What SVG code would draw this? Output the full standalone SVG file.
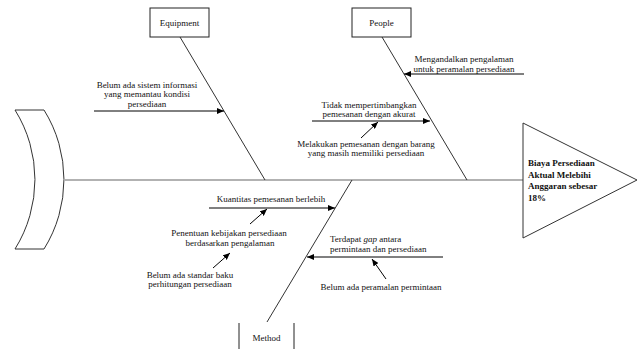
<svg xmlns="http://www.w3.org/2000/svg" width="638" height="349" viewBox="0 0 638 349">
<defs>
<style>
.t{font-family:"Liberation Serif","Times New Roman",serif;font-size:9px;fill:#111}
.c{text-anchor:middle}
.b{font-weight:bold}
.bone{stroke:#333;stroke-width:1;fill:none}
.sp{stroke:#666;stroke-width:1.2;fill:none}
.ar{stroke:#000;stroke-width:1;fill:none;marker-end:url(#ah)}
.box{fill:#fff;stroke:#222;stroke-width:1}
</style>
<marker id="ah" markerUnits="userSpaceOnUse" markerWidth="8" markerHeight="6" refX="7" refY="3" orient="auto">
<path d="M0,0 L7,3 L0,6 z" fill="#000"/>
</marker>
</defs>
<rect width="638" height="349" fill="#fff"/>

<g id="connectors">
<line class="sp" x1="65" y1="180" x2="523" y2="180"/>
<line class="bone" x1="180" y1="37" x2="265" y2="180"/>
<line class="bone" x1="382" y1="37" x2="467" y2="180"/>
<line class="bone" x1="352" y1="180" x2="267" y2="322"/>
<line class="ar" x1="94" y1="111" x2="224" y2="111"/>
<line class="ar" x1="524" y1="74" x2="404" y2="74"/>
<line class="ar" x1="312" y1="121" x2="430" y2="121"/>
<line class="ar" x1="361" y1="138" x2="378" y2="122"/>
<line class="ar" x1="209" y1="208" x2="335" y2="208"/>
<line class="ar" x1="250" y1="224" x2="267" y2="209"/>
<line class="ar" x1="213" y1="268" x2="230" y2="253"/>
<line class="ar" x1="443" y1="257" x2="307" y2="257"/>
<line class="ar" x1="386" y1="279" x2="372" y2="259"/>
</g>

<g id="tail">
<path d="M15,110 L44,110 A131,131 0 0 1 44,249 L15,249 A131,131 0 0 0 15,110 Z" fill="#fff" stroke="#333" stroke-width="1"/>
</g>

<g id="head">
<path d="M523,123 L637,180 L523,238 Z" fill="#fff" stroke="#333" stroke-width="1"/>
<text class="t b" x="528" y="166">Biaya Persediaan</text>
<text class="t b" x="528" y="177.5">Aktual Melebihi</text>
<text class="t b" x="528" y="189">Anggaran sebesar</text>
<text class="t b" x="528" y="200.5">18%</text>
</g>

<g id="equipment">
<rect class="box" x="150" y="8" width="59" height="29"/>
<text class="t c" x="179.5" y="26">Equipment</text>
</g>

<g id="people">
<rect class="box" x="352" y="8" width="59" height="29"/>
<text class="t c" x="381.5" y="26">People</text>
</g>

<g id="method">
<line x1="239" y1="323" x2="239" y2="349" stroke="#222"/>
<line x1="294" y1="323" x2="294" y2="349" stroke="#222"/>
<text class="t c" x="266.5" y="341">Method</text>
</g>

<g id="cause-sistem">
<text class="t c" x="147" y="88">Belum ada sistem informasi</text>
<text class="t c" x="147" y="97">yang memantau kondisi</text>
<text class="t c" x="147" y="106.5">persediaan</text>
</g>

<g id="cause-mengandalkan">
<text class="t c" x="464" y="62">Mengandalkan pengalaman</text>
<text class="t c" x="464" y="72">untuk peramalan persediaan</text>
</g>

<g id="cause-tidak">
<text class="t c" x="369" y="107.5">Tidak mempertimbangkan</text>
<text class="t c" x="369" y="117">pemesanan dengan akurat</text>
</g>

<g id="cause-melakukan">
<text class="t c" x="366" y="147">Melakukan pemesanan dengan barang</text>
<text class="t c" x="366" y="156">yang masih memiliki persediaan</text>
</g>

<g id="cause-kuantitas">
<text class="t c" x="271" y="202">Kuantitas pemesanan berlebih</text>
</g>

<g id="cause-penentuan">
<text class="t c" x="229" y="236">Penentuan kebijakan persediaan</text>
<text class="t c" x="230" y="246">berdasarkan pengalaman</text>
</g>

<g id="cause-standar">
<text class="t c" x="190" y="278">Belum ada standar baku</text>
<text class="t c" x="190" y="287">perhitungan persediaan</text>
</g>

<g id="cause-gap">
<text class="t" x="330" y="242">Terdapat <tspan font-style="italic">gap</tspan> antara</text>
<text class="t" x="330" y="252">permintaan dan persediaan</text>
</g>

<g id="cause-peramalan">
<text class="t c" x="381" y="290">Belum ada peramalan permintaan</text>
</g>
</svg>
